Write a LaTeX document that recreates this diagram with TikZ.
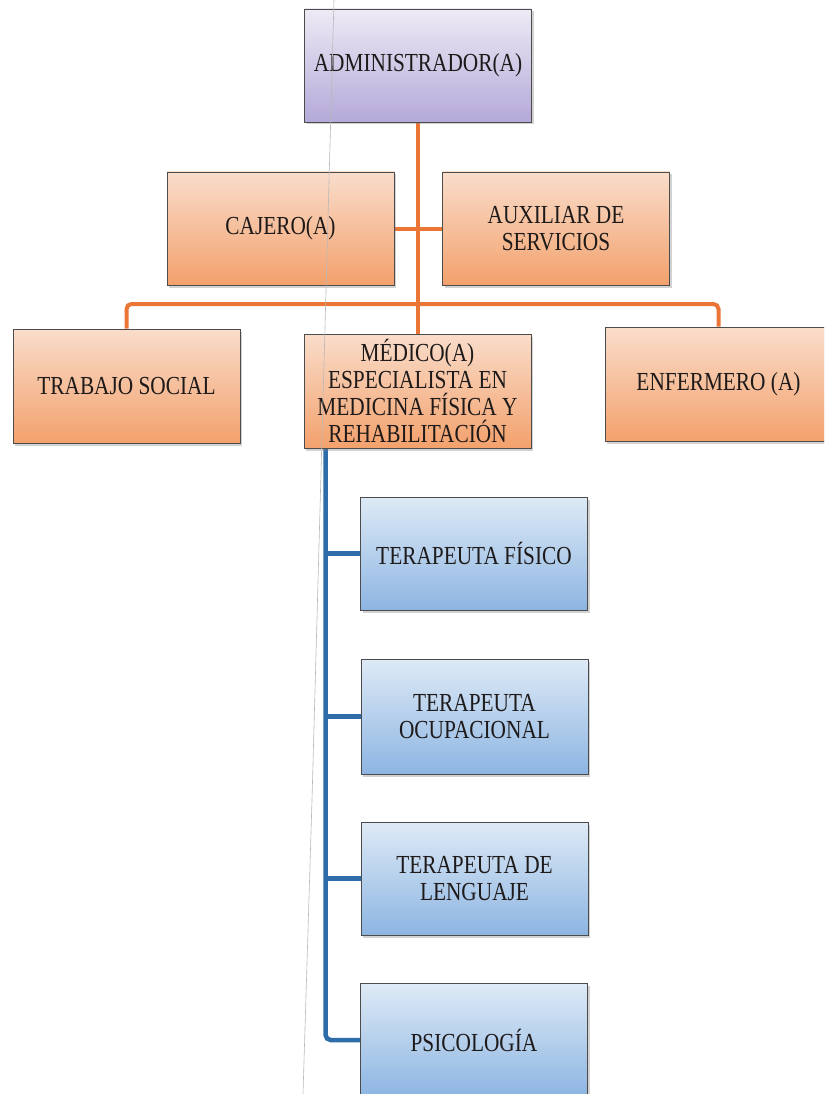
\documentclass[tikz,border=0pt]{standalone}
\usepackage{fontspec}
\setmainfont{Liberation Serif}[FakeStretch=0.82]
\usetikzlibrary{shadows,backgrounds}
\definecolor{admTop}{HTML}{EEEAF5}
\definecolor{admBot}{HTML}{B4A9D8}
\definecolor{orTop}{HTML}{F9DDCB}
\definecolor{orBot}{HTML}{F3A16C}
\definecolor{blTop}{HTML}{DEEAF6}
\definecolor{blBot}{HTML}{8DB5E2}
\definecolor{orLine}{HTML}{EA7535}
\definecolor{blLine}{HTML}{2E6DA8}
\definecolor{txt}{HTML}{1E1A1A}
\begin{document}
\begin{tikzpicture}[x=1pt,y=-1pt,
  box/.style={draw=black!70, line width=0.8pt, minimum width=227pt, minimum height=113pt,
    inner sep=0pt, align=center, text=txt, font=\fontsize{26}{27}\selectfont,
    drop shadow={shadow xshift=2pt,shadow yshift=-2.5pt,opacity=0.35}},
  adminbox/.style={box, top color=admTop, bottom color=admBot},
  orangebox/.style={box, top color=orTop, bottom color=orBot},
  bluebox/.style={box, top color=blTop, bottom color=blBot},
  oline/.style={draw=orLine, line width=4pt},
  bline/.style={draw=blLine, line width=4.5pt}]
\useasboundingbox (0,0) rectangle (824,1094);
\clip (0,0) rectangle (824,1094);

\node[adminbox] (admin) at (418,65.5) {ADMINISTRADOR(A)};
\node[orangebox] (cajero) at (280.5,228.5) {CAJERO(A)};
\node[orangebox] (aux) at (556,228.5) {AUXILIAR DE\\SERVICIOS};
\node[orangebox, minimum height=114pt] (trabajo) at (126.5,386) {TRABAJO SOCIAL};
\node[orangebox, minimum height=114pt] (medico) at (417.5,391) {MÉDICO(A)\\ESPECIALISTA EN\\MEDICINA FÍSICA Y\\REHABILITACIÓN};
\node[orangebox, minimum height=114pt] (enfermero) at (718.5,384) {ENFERMERO (A)};
\node[bluebox] (tf) at (474,553.5) {TERAPEUTA FÍSICO};
\node[bluebox, minimum height=115pt] (to) at (474.5,716.5) {TERAPEUTA\\OCUPACIONAL};
\node[bluebox] (tl) at (474.5,878.5) {TERAPEUTA DE\\LENGUAJE};
\node[bluebox] (ps) at (474,1040) {PSICOLOGÍA};

\coordinate (bar) at (418,304);
\coordinate (bt) at ([xshift=22pt]medico.south west);

\begin{scope}[on background layer]
\fill[white] (0,0) rectangle (824,1094);
\draw[oline] (admin.south) -- (admin.south |- medico.north);
\draw[oline] (cajero.east) -- (aux.west);
\draw[oline, rounded corners=5pt] (trabajo.north) -- (trabajo.north |- bar) -- (enfermero.north |- bar) -- (enfermero.north);
\draw[bline, rounded corners=5pt] (bt) |- (ps.west);
\draw[bline] (bt |- tf.west) -- (tf.west);
\draw[bline] (bt |- to.west) -- (to.west);
\draw[bline] (bt |- tl.west) -- (tl.west);
\end{scope}

\draw[gray!55, line width=0.6pt] (334,0) -- (312,800) -- (303,1094);
\end{tikzpicture}
\end{document}
